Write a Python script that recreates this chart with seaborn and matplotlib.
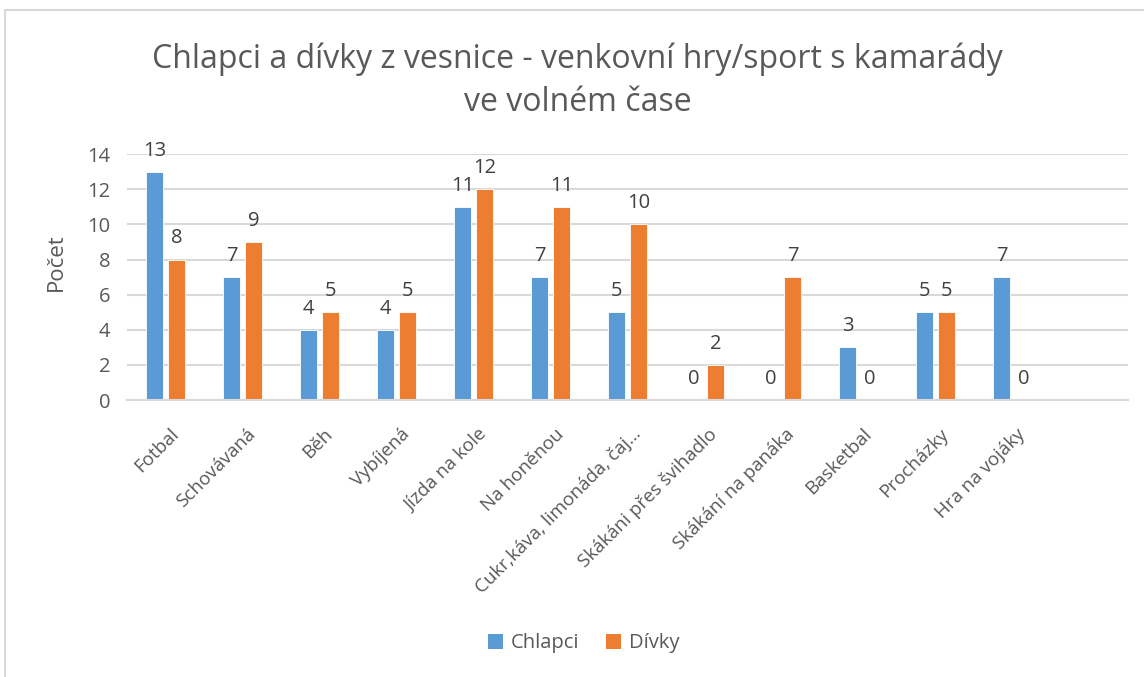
import matplotlib
matplotlib.use("Agg")
import matplotlib.pyplot as plt
import matplotlib.transforms as mtransforms
from matplotlib.lines import Line2D
from matplotlib.patches import Patch
import seaborn as sns
import pandas as pd

categories = [
    "Fotbal", "Schovávaná", "Běh", "Vybíjená", "Jízda na kole", "Na honěnou",
    "Cukr,káva, limonáda, čaj…", "Skákáni přes švihadlo", "Skákání na panáka",
    "Basketbal", "Procházky", "Hra na vojáky",
]
chlapci = [13, 7, 4, 4, 11, 7, 5, 0, 0, 3, 5, 7]
divky = [8, 9, 5, 5, 12, 11, 10, 2, 7, 0, 5, 0]
series_names = ["Chlapci", "Dívky"]
yticks = [0, 2, 4, 6, 8, 10, 12, 14]

colors = {"Chlapci": "#5B9BD5", "Dívky": "#ED7D31"}
text_color = "#595959"

df = pd.DataFrame({
    "kategorie": categories * 2,
    "serie": [series_names[0]] * len(categories) + [series_names[1]] * len(categories),
    "pocet": chlapci + divky,
})

sns.set_style("white")
plt.rcParams["font.family"] = ["Open Sans", "DejaVu Sans"]

fig = plt.figure(figsize=(11.44, 6.77), dpi=100)
ax = fig.add_axes([0.111, 0.409, 0.875, 0.3634])

sns.barplot(
    data=df, x="kategorie", y="pocet", hue="serie", order=categories,
    hue_order=series_names, palette=colors, saturation=1, width=0.57, gap=0.23,
    edgecolor="#FFFFFF", linewidth=0.6, legend=False, ax=ax, errorbar=None,
)

# value labels above each bar
for container in ax.containers:
    for bar in container:
        h = bar.get_height()
        ax.annotate(f"{int(round(h))}", (bar.get_x() + bar.get_width() / 2, h),
                    xytext=(0, 8), textcoords="offset points",
                    ha="center", va="bottom", fontsize=14.5, color="#404040")

ax.set_xlim(-0.5, len(categories) + 0.5)
ax.set_ylim(0, 14)
ax.set_yticks(yticks)
ax.yaxis.grid(True, color="#D9D9D9", linewidth=1.5)
ax.set_axisbelow(True)
for s in ["top", "right", "left"]:
    ax.spines[s].set_visible(False)
ax.spines["bottom"].set_color("#D9D9D9")
ax.spines["bottom"].set_linewidth(1.5)
ax.tick_params(axis="y", length=0, labelsize=14.5, labelcolor=text_color, pad=12)
ax.set_xticks(range(len(categories)))
ax.set_xticklabels(categories, rotation=45, ha="right", rotation_mode="anchor")
ax.tick_params(axis="x", length=0, labelsize=13.5, labelcolor=text_color, pad=18)
shift = mtransforms.ScaledTranslation(4 / 100, 0, fig.dpi_scale_trans)
for lbl in ax.get_xticklabels():
    lbl.set_transform(lbl.get_transform() + shift)
ax.set_xlabel("")
ax.set_ylabel("Počet", fontsize=16, color=text_color)
ax.yaxis.set_label_coords(-0.060, 0.56)

fig.text(0.505, 0.912, "Chlapci a dívky z vesnice - venkovní hry/sport s kamarády",
         ha="center", va="center", fontsize=23, color=text_color)
fig.text(0.505, 0.848, "ve volném čase",
         ha="center", va="center", fontsize=23, color=text_color)

handles = [Patch(facecolor=colors[n], edgecolor="none") for n in series_names]
fig.legend(handles, series_names, loc="center", bbox_to_anchor=(0.51, 0.05),
           ncol=2, frameon=False, fontsize=14.5, handlelength=0.75, handleheight=0.75,
           handletextpad=0.4, columnspacing=1.3, labelcolor=text_color)

# chart frame edges
fig.add_artist(Line2D([0.0045, 0.0045], [0, 0.985], color="#D9D9D9", linewidth=1.5,
                      transform=fig.transFigure))
fig.add_artist(Line2D([0.0045, 1], [0.985, 0.985], color="#D9D9D9", linewidth=1.5,
                      transform=fig.transFigure))

fig.savefig("out.png", dpi=100)
